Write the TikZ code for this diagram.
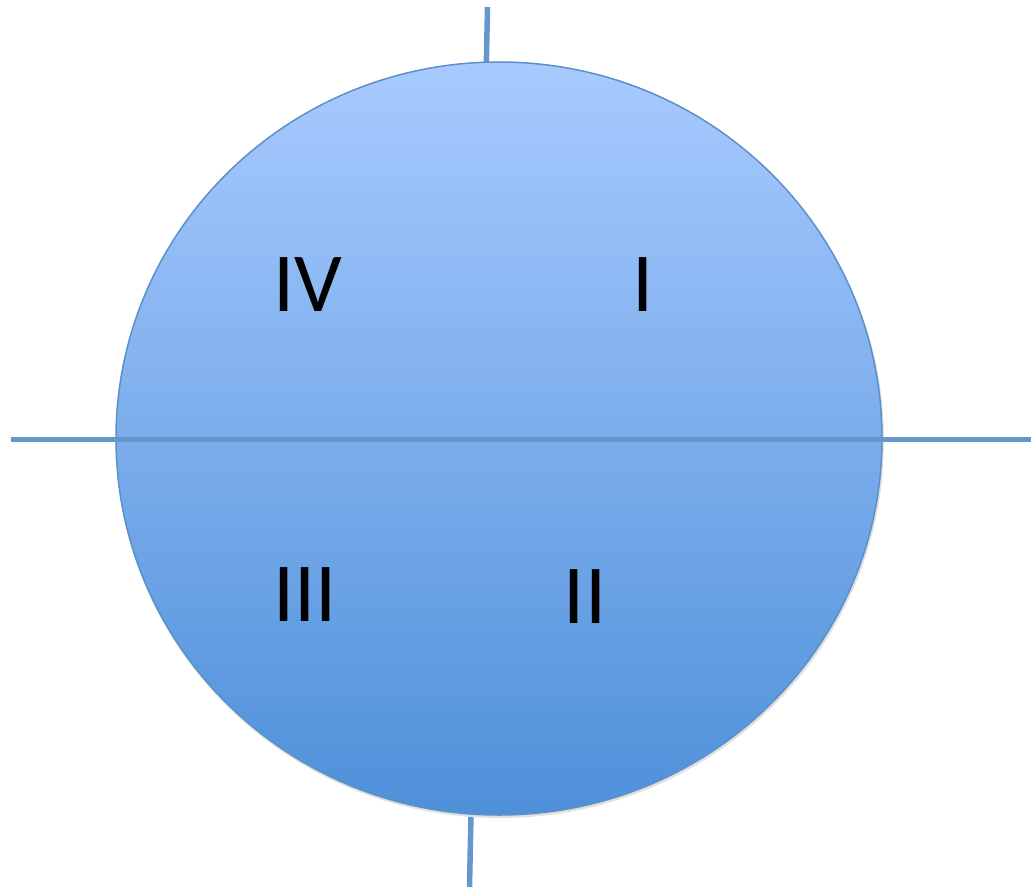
\documentclass[tikz,border=0pt]{standalone}
\usepackage{fontspec}
\setmainfont{Carlito}
\definecolor{linec}{HTML}{6497CB}
\definecolor{edgec}{HTML}{5C90C8}
\definecolor{topc}{HTML}{A8CAFF}
\definecolor{botc}{HTML}{4E90D9}
\tikzset{
  axis/.style={draw=linec, line width=5.5pt},
  quad/.style={font=\fontsize{84}{84}\selectfont, text=black, inner sep=0pt},
}
\begin{document}
\begin{tikzpicture}[x=1pt,y=-1pt]
\useasboundingbox (0,0) rectangle (1031,891);
\coordinate (vt) at (487.5,7);
\coordinate (vb) at (469.5,887);
\coordinate (hl) at (11,439.5);
\coordinate (hr) at (1031,439.5);
\draw[axis] (vt) -- (vb);
\fill[black!12] (500,441) ellipse [x radius=384, y radius=377];
\shade[top color=topc, bottom color=botc, draw=edgec, line width=1.5pt] (499,438.5) ellipse [x radius=383, y radius=376.5];
\draw[axis] (hl) -- (hr);
\node[quad] (q4) at (308,285) {IV};
\node[quad] (q1) at (643,285) {I};
\node[quad] (q3) at (305,595) {III};
\node[quad] (q2) at (585,597) {II};
\end{tikzpicture}
\end{document}
